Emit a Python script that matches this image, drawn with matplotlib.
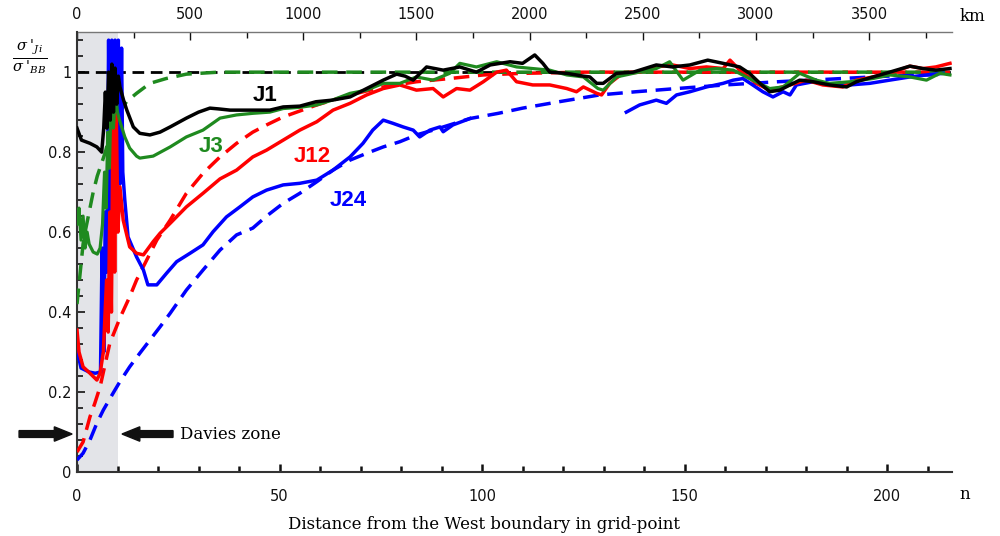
import numpy as np
import matplotlib
matplotlib.use("Agg")
import matplotlib.pyplot as plt
from matplotlib.patches import FancyArrow
from matplotlib.ticker import MultipleLocator, FixedLocator, FuncFormatter

# grid spacing (km per grid point) and domain length
DX_KM = 17.9
N_MAX = 216
DAVIES_WIDTH = 10

# ---- simulated ratio sigma'_Ji / sigma'_BB (solid) ----
j1_n = [0, 1.1, 3.2, 4.9, 6.1, 6.6, 7.0, 7.4, 7.8, 8.2, 8.6, 9.0, 9.4, 9.8, 10.2, 10.6,
        11.5, 12.3, 13.9, 15.5, 18, 20.5, 23, 27, 30, 32.8, 35, 37.8, 42.7, 47.6, 50.9,
        55, 59, 63, 67.4, 71.5, 75.6, 78.9, 81, 83, 86.3, 90.4, 94.5, 98.6, 102, 106.9,
        110, 113, 115, 116.7, 120.9, 125, 126.6, 128.3, 129.9, 133.2, 137.3, 143, 147,
        151.3, 155.7, 159.5, 163.6, 166, 168.6, 171, 173.5, 176, 178.4, 181.7, 185.8,
        190, 192.4, 196.5, 200.6, 205.6, 208.8, 212, 215.5]
j1 = [0.86, 0.83, 0.822, 0.813, 0.80, 0.86, 0.95, 0.86, 1.0, 0.88, 1.02, 0.9, 1.01, 0.92,
      0.99, 0.963, 0.93, 0.905, 0.863, 0.847, 0.843, 0.85, 0.863, 0.885, 0.90, 0.91,
      0.908, 0.905, 0.905, 0.905, 0.913, 0.915, 0.926, 0.93, 0.938, 0.959, 0.98, 0.995,
      0.99, 0.98, 1.013, 1.005, 1.013, 1.0, 1.018, 1.026, 1.022, 1.043, 1.022, 1.0,
      0.997, 0.99, 0.988, 0.972, 0.972, 0.997, 1.0, 1.018, 1.013, 1.018, 1.03, 1.022,
      1.013, 0.997, 0.972, 0.951, 0.955, 0.968, 0.98, 0.976, 0.968, 0.963, 0.976, 0.988,
      1.0, 1.015, 1.009, 1.005, 1.009]

j3_n = [0, 0.5, 1, 1.5, 2, 2.5, 3, 4, 5, 5.7, 6.3, 6.8, 7.2, 7.6, 8.0, 8.5, 9.0, 9.5, 10,
        10.5, 11.8, 13, 14.7, 15.5, 18.8, 23, 27, 31.1, 35.3, 39.4, 43.4, 47.6, 50.9, 55,
        59.2, 63, 67.4, 71.5, 75.6, 79.7, 83.8, 87.9, 92, 94.5, 98.6, 103.6, 108.5, 112.5,
        116.7, 120.9, 125, 128.6, 129.9, 133.2, 137.3, 143, 146.3, 149.6, 153.8, 157.9,
        162, 166, 171, 174.3, 178.4, 182.5, 185.8, 190.8, 196.5, 200.6, 205.6, 209.7,
        213, 215.5]
j3 = [0.62, 0.66, 0.58, 0.64, 0.56, 0.6, 0.57, 0.55, 0.545, 0.56, 0.62, 0.75, 0.66, 0.85,
      0.76, 0.97, 0.86, 0.95, 0.9, 0.88, 0.838, 0.81, 0.79, 0.785, 0.79, 0.813, 0.838,
      0.855, 0.885, 0.893, 0.897, 0.9, 0.909, 0.912, 0.918, 0.93, 0.947, 0.955, 0.972,
      0.972, 0.988, 0.98, 0.997, 1.022, 1.013, 1.026, 1.013, 1.009, 1.005, 0.993, 0.988,
      0.959, 0.955, 0.988, 0.997, 1.009, 1.026, 0.98, 1.005, 1.009, 1.005, 0.984, 0.959,
      0.963, 0.997, 0.98, 0.972, 0.976, 0.984, 0.993, 0.988, 0.98, 0.997, 0.993]

j12_n = [0, 0.5, 1.5, 3.2, 4.9, 5.7, 6.5, 7.3, 7.7, 8.1, 8.5, 8.9, 9.3, 9.7, 10.1, 10.6,
         11.4, 13, 14.7, 16.4, 18.8, 20.5, 23, 27, 31.1, 35.3, 39.4, 43.4, 46.8, 50.9, 55,
         59.2, 63.2, 67.4, 71.5, 75.6, 79.7, 83.8, 87.9, 90.4, 93.7, 97, 100.3, 103.6, 106,
         108.5, 112.5, 116.7, 120.9, 123.3, 125, 128.3, 129.5, 131.5, 134.7, 138.9, 143,
         147, 151.3, 155.4, 159.5, 161.2, 163.6, 167.7, 171, 176, 180, 184.1, 189, 192.4,
         196.5, 200.6, 205.6, 208.8, 212, 215.5]
j12 = [0.355, 0.3, 0.263, 0.247, 0.23, 0.247, 0.3, 0.48, 0.35, 0.65, 0.4, 0.92, 0.5, 0.9,
       0.6, 0.713, 0.63, 0.563, 0.547, 0.543, 0.576, 0.597, 0.622, 0.663, 0.697, 0.733,
       0.755, 0.788, 0.805, 0.83, 0.855, 0.876, 0.905, 0.922, 0.943, 0.959, 0.968, 0.955,
       0.959, 0.938, 0.959, 0.955, 0.976, 1.0, 1.005, 0.976, 0.968, 0.968, 0.959, 0.951,
       0.963, 0.947, 0.943, 0.972, 0.997, 1.0, 1.013, 1.018, 1.009, 1.013, 1.009, 1.03,
       1.005, 0.972, 0.955, 0.968, 0.98, 0.968, 0.963, 0.98, 0.988, 0.997, 1.015, 1.009,
       1.013, 1.022]

j24_n = [0, 1, 2, 3, 4.5, 5.8, 6.2, 6.6, 7.0, 7.4, 7.8, 8.2, 8.6, 9.0, 9.4, 9.8, 10.2,
         10.6, 11.0, 11.3, 11.8, 12.6, 14.7, 16.4, 17.5, 19.7, 22.1, 24.6, 27.9, 31.1,
         33.6, 36.9, 40.2, 43.4, 46.8, 50.9, 55, 59.2, 63.2, 67.4, 70.6, 73, 75.6, 78,
         80.5, 83, 84.6, 87.1, 89.6, 90.4, 92.8, 97, 116, 135.6, 138.9, 143, 145.5, 148,
         151.3, 155.4, 159.5, 162, 164.4, 166.8, 169.3, 171.8, 174.3, 176, 177.6, 181.7,
         185.8, 190.8, 195.7, 200.6, 205.6, 209.7, 213.8]
j24 = [0.305, 0.26, 0.255, 0.25, 0.247, 0.25, 0.56, 0.3, 0.65, 0.5, 1.08, 0.6, 1.08, 0.62,
       1.08, 0.7, 1.08, 0.72, 1.06, 0.75, 0.68, 0.588, 0.538, 0.505, 0.468, 0.468, 0.497,
       0.526, 0.547, 0.568, 0.601, 0.638, 0.663, 0.688, 0.705, 0.718, 0.722, 0.73, 0.755,
       0.788, 0.822, 0.855, 0.88, 0.872, 0.863, 0.855, 0.838, 0.855, 0.863, 0.851, 0.868,
       0.884, np.nan, 0.9, 0.918, 0.93, 0.922, 0.943, 0.951, 0.963, 0.972, 0.98, 0.984,
       0.968, 0.951, 0.938, 0.951, 0.943, 0.968, 0.976, 0.968, 0.968, 0.972, 0.98, 0.988,
       0.993, 0.997]

# ---- theoretical ratio (dashed) ----
j3t_n = [0, 0.5, 1, 1.5, 2, 3, 4, 5, 6, 7, 8, 9, 10, 12.2, 14.7, 18, 22, 27, 35, 216]
j3t = [0.42, 0.47, 0.52, 0.57, 0.6, 0.65, 0.7, 0.74, 0.77, 0.8, 0.84, 0.87, 0.89, 0.926,
       0.947, 0.972, 0.984, 0.995, 1.0, 1.0]

j12t_n = [0, 1.5, 3.2, 4.4, 5.7, 8.1, 10.6, 13, 14.7, 16.8, 19.7, 23, 27, 31.1, 35.3,
          39.4, 43.4, 46.8, 50.9, 59.2, 67.4, 75.6, 83.8, 92, 100.3, 110, 125, 140, 160,
          185, 215.5]
j12t = [0.05, 0.075, 0.138, 0.172, 0.213, 0.322, 0.385, 0.438, 0.48, 0.522, 0.58, 0.63,
        0.697, 0.747, 0.788, 0.822, 0.85, 0.868, 0.888, 0.918, 0.943, 0.963, 0.976, 0.984,
        0.993, 0.997, 1.0, 1.0, 1.0, 1.0, 1.0]

j24t_n = [0, 1.5, 3.2, 4.9, 6.5, 8.9, 10.6, 13, 15.5, 18, 20.5, 23, 27, 31.1, 35.3, 39.4,
          43.4, 46.8, 50.9, 55, 59.2, 63.2, 67.4, 71.5, 75.6, 79.7, 83.8, 87.9, 92, 97,
          104, 110, 119, 129, 138, 148, 160, 173, 185, 200, 215.5]
j24t = [0.03, 0.047, 0.08, 0.122, 0.155, 0.197, 0.226, 0.263, 0.297, 0.33, 0.363, 0.397,
        0.455, 0.505, 0.555, 0.593, 0.61, 0.64, 0.672, 0.697, 0.726, 0.755, 0.78, 0.797,
        0.813, 0.826, 0.843, 0.855, 0.868, 0.884, 0.897, 0.91, 0.926, 0.943, 0.951, 0.959,
        0.968, 0.976, 0.982, 0.99, 0.995]

labels = ["J1", "J3", "J12", "J24"]
label_pos = [(46.5, 0.942), (33, 0.815), (58, 0.79), (67, 0.68)]

km_major = [0, 500, 1000, 1500, 2000, 2500, 3000, 3500]
km_minor = [250, 750, 1250, 1750, 2250, 2750, 3250, 3750]

C_BLACK, C_GREEN, C_RED, C_BLUE = "#000000", "#1f8a1f", "#ff0000", "#0000ff"
colors = [C_BLACK, C_GREEN, C_RED, C_BLUE]

fig = plt.figure(figsize=(10, 5.36), dpi=100)
ax = fig.add_axes([0.077, 0.1194, 0.875, 0.8206])

# Davies relaxation zone
ax.axvspan(0, DAVIES_WIDTH, color="#e3e4e8", zorder=0, lw=0)

# reference level
ax.plot([0, N_MAX], [1, 1], color="black", lw=2.0, dashes=(4.2, 2.4), zorder=2)

dash = (4.5, 2.5)
ax.plot(j24t_n, j24t, color=C_BLUE, lw=2.5, dashes=dash, zorder=3)
ax.plot(j12t_n, j12t, color=C_RED, lw=2.5, dashes=dash, zorder=3)
ax.plot(j3t_n, j3t, color=C_GREEN, lw=2.5, dashes=dash, zorder=3)

ax.plot(j24_n, j24, color=C_BLUE, lw=2.5, zorder=4)
ax.plot(j12_n, j12, color=C_RED, lw=2.5, zorder=5)
ax.plot(j3_n, j3, color=C_GREEN, lw=2.3, zorder=6)
ax.plot(j1_n, j1, color=C_BLACK, lw=2.5, zorder=7)

for lab, (lx, ly), c in zip(labels, label_pos, colors):
    ax.text(lx, ly, lab, color=c, fontsize=16, fontweight="bold",
            family="Liberation Sans", ha="center", va="center", zorder=8)

ax.set_xlim(0, N_MAX)
ax.set_ylim(0, 1.1)

ax.xaxis.set_major_locator(MultipleLocator(50))
ax.xaxis.set_minor_locator(MultipleLocator(10))
ax.yaxis.set_major_locator(MultipleLocator(0.2))
ax.yaxis.set_minor_locator(MultipleLocator(0.04))
ax.yaxis.set_major_formatter(FuncFormatter(lambda v, p: "%g" % round(v, 2)))

ax.tick_params(which="both", direction="in", top=False, right=False,
               labelsize=10.5, colors="#111111")
ax.tick_params(axis="x", which="major", length=6, width=1.8, pad=12.5)
ax.tick_params(axis="x", which="minor", length=4, width=1.8)
ax.tick_params(axis="y", which="major", length=6, width=1.2, pad=4)
ax.tick_params(axis="y", which="minor", length=4, width=1.2)

ax.spines["right"].set_visible(False)
ax.spines["top"].set_visible(False)
ax.spines["left"].set_color("#333333")
ax.spines["left"].set_linewidth(1.5)
ax.spines["bottom"].set_color("#333333")
ax.spines["bottom"].set_linewidth(1.5)

# distance in km along the top
sec = ax.secondary_xaxis("top", functions=(lambda n: n * DX_KM, lambda k: k / DX_KM))
sec.xaxis.set_major_locator(FixedLocator(km_major))
sec.xaxis.set_minor_locator(FixedLocator(km_minor))
sec.tick_params(which="both", direction="in", labelsize=10.5, colors="#111111")
sec.tick_params(which="major", length=6, width=1.0, pad=7)
sec.tick_params(which="minor", length=4, width=1.0)
sec.spines["top"].set_color("#777777")
sec.spines["top"].set_linewidth(1.0)

serif = "DejaVu Serif"
fig.text(0.484, 0.021, "Distance from the West boundary in grid-point",
         family=serif, fontsize=12, ha="center", va="center")
fig.text(0.965, 0.077, "n", family=serif, fontsize=12, ha="center", va="center")
fig.text(0.972, 0.970, "km", family=serif, fontsize=12, ha="center", va="center")
plt.rcParams["mathtext.fontset"] = "dejavuserif"
fig.text(0.03, 0.892, r"$\frac{\sigma\;'_{Ji}}{\sigma\;'_{BB}}$", fontsize=15,
         ha="center", va="center")

# arrows marking the Davies zone
y_arr = 0.095
for x0, x1 in [(-14.3, -1.2), (23.7, 11.1)]:
    ax.add_patch(FancyArrow(x0, y_arr, x1 - x0, 0, width=0.017, head_width=0.036,
                            head_length=4.4, length_includes_head=True,
                            color="#111111", clip_on=False, zorder=9))
ax.text(25.4, y_arr, "Davies zone", family=serif, fontsize=12, ha="left",
        va="center", zorder=9)

fig.savefig("out.png", dpi=100)
